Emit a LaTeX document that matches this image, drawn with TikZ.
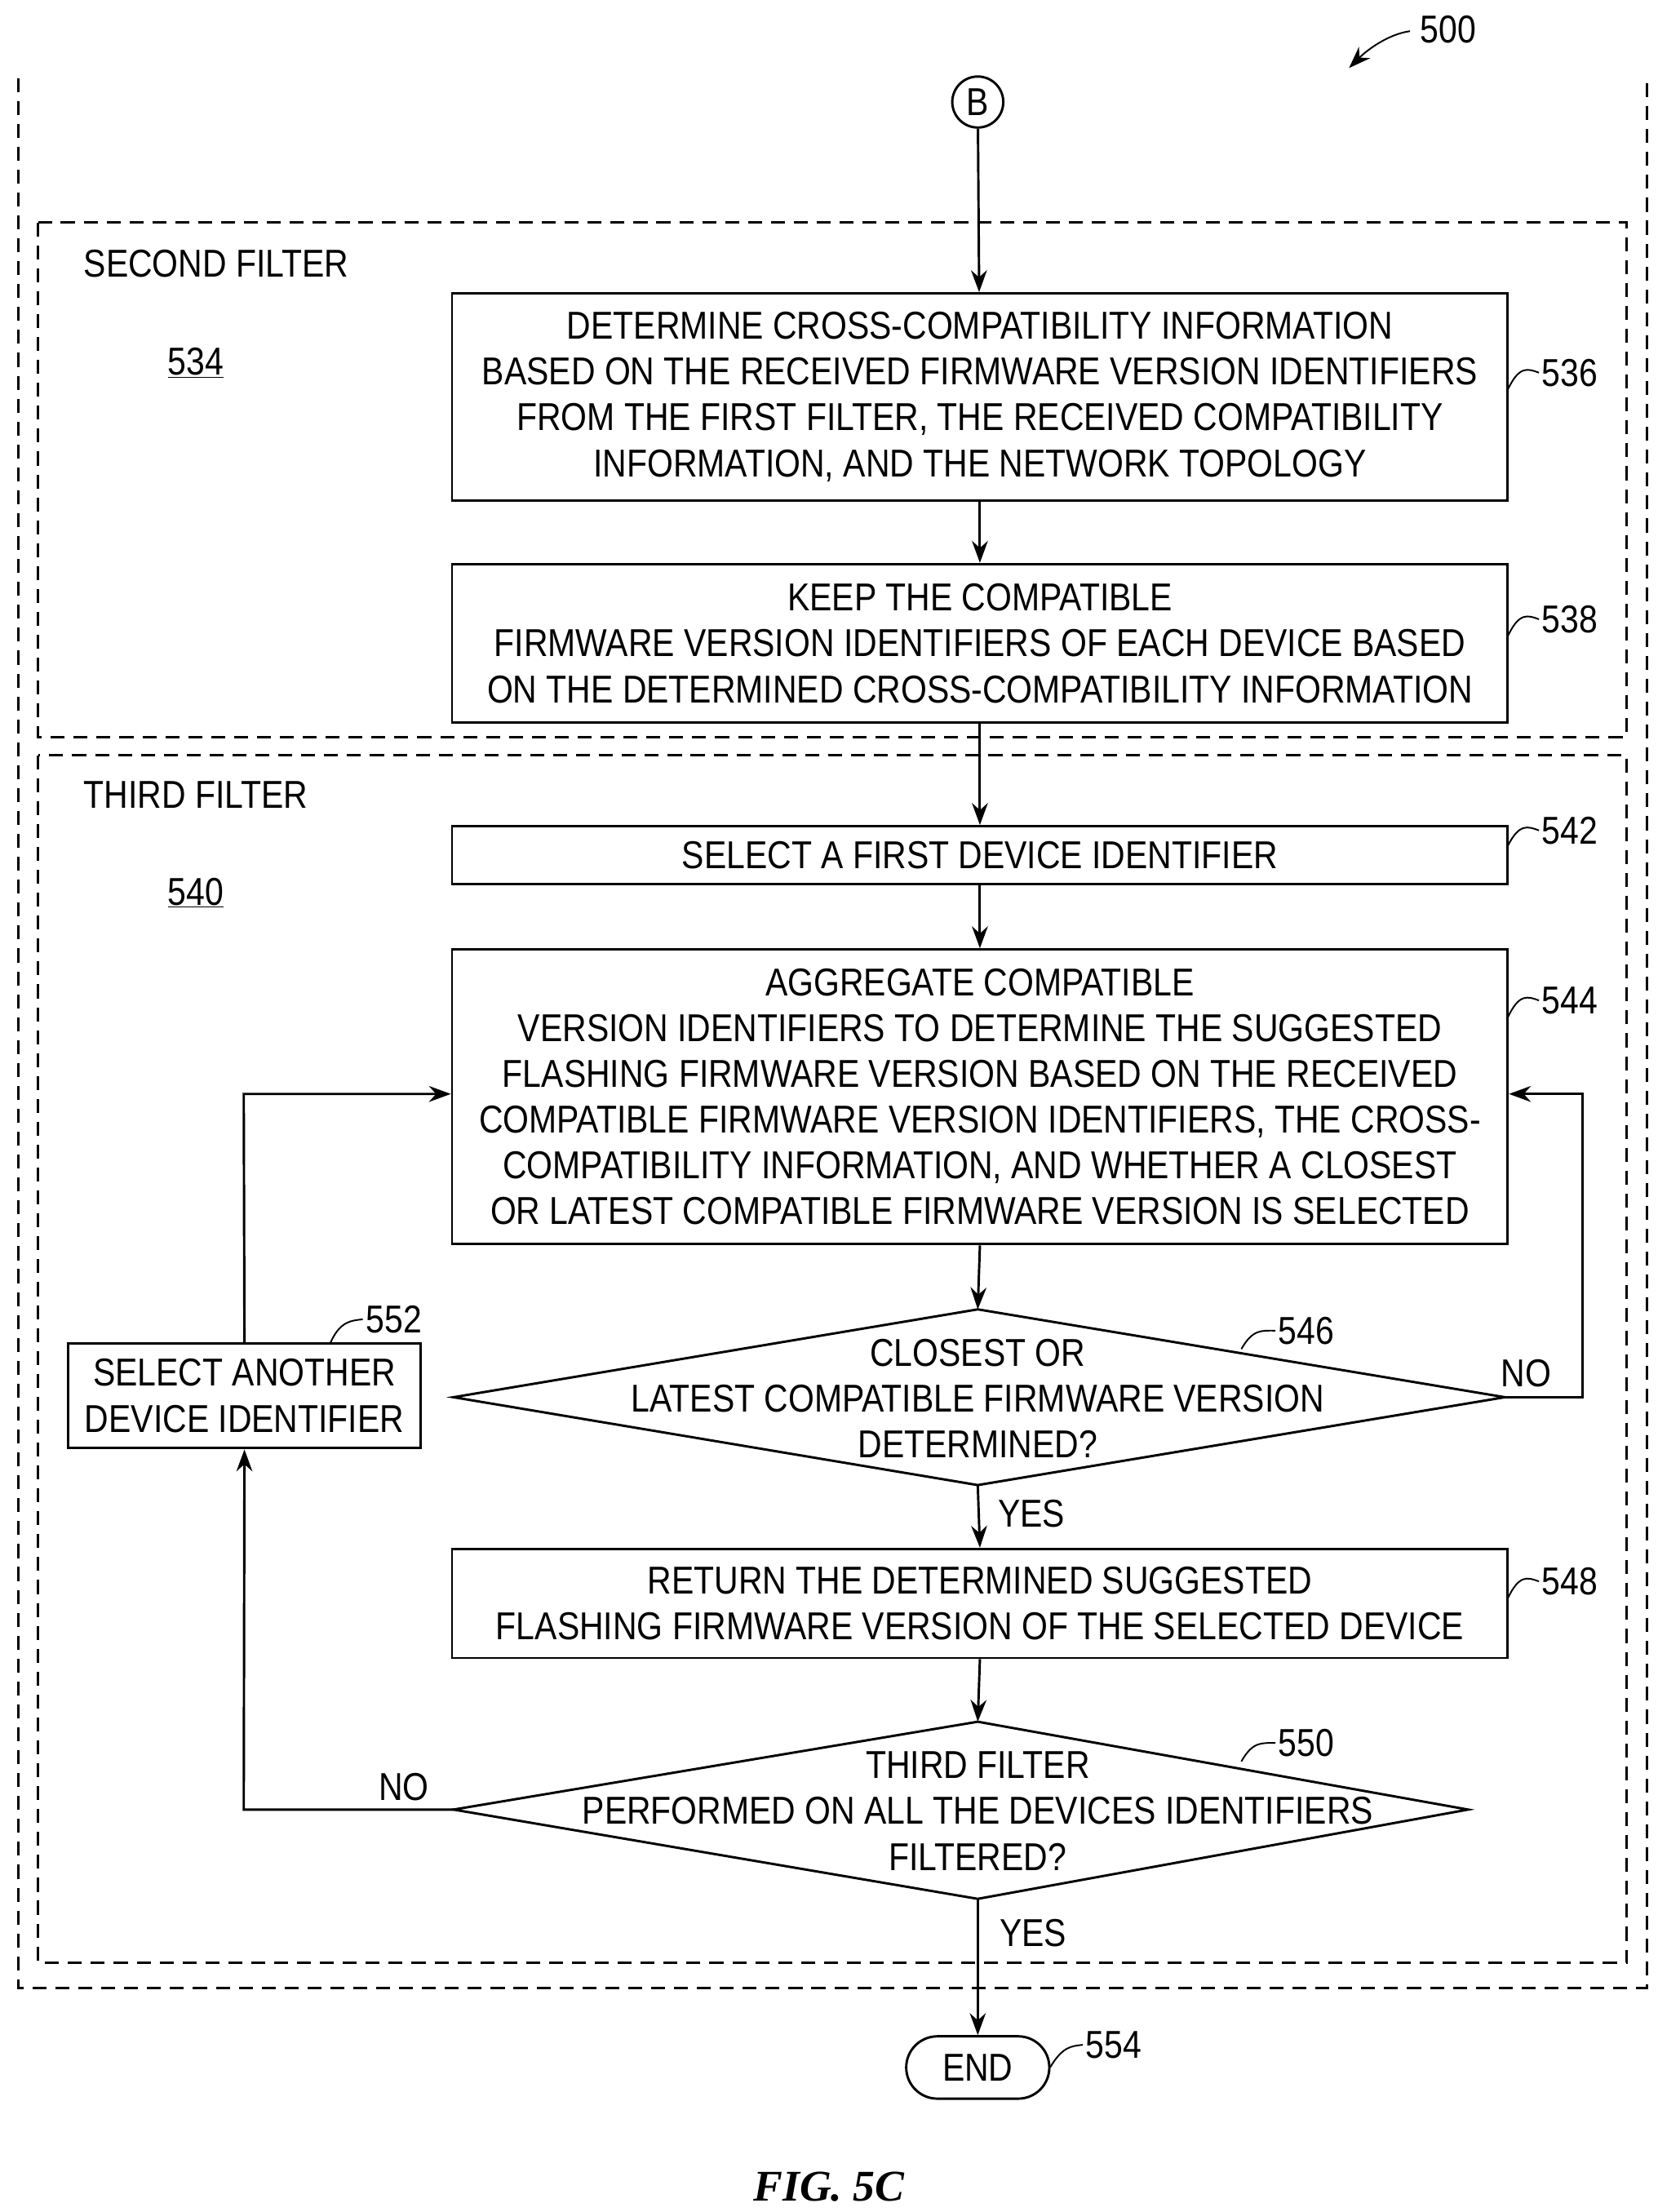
\documentclass[tikz,border=0pt]{standalone}
\usepackage{fontspec}
\setmainfont{Liberation Sans}[FakeStretch=0.86]
\newfontfamily\figfont{Liberation Serif}
\usetikzlibrary{arrows.meta,shapes.geometric,shapes.misc}
\begin{document}
\begin{tikzpicture}[x=0.05cm,y=-0.05cm,line width=2.4pt,
  every node/.style={font=\fontsize{39}{46}\selectfont},
  box/.style={draw,rectangle,align=center,inner sep=0pt},
  arr/.style={-{Stealth[length=22pt,width=16pt]}},
  dashbox/.style={dash pattern=on 14pt off 9pt},
  lab/.style={anchor=west,inner sep=2pt},
  lead/.style={line width=1.6pt}]
\useasboundingbox (0,0) rectangle (1170,1561);
% outer
\draw[dashbox] (13,55) -- (13,1403) -- (1162,1403) -- (1162,55);
\draw[dashbox] (27,157) rectangle (1148,520);
\draw[dashbox] (27,533) rectangle (1148,1385);
\node[anchor=west] (t2) at (56,186) {SECOND FILTER};
\node (n534) at (138,256) {\underline{534}};
\node[anchor=west] (t3) at (56,561) {THIRD FILTER};
\node (n540) at (138,630) {\underline{540}};
% ref 500
\node (n500) at (1022,21) {500};
\coordinate (a500) at (952,48);
\draw[lead,arr] (995,22) .. controls (980,24) and (965,35) .. (a500);
% nodes
\node[draw,circle,inner sep=0pt,minimum size=36*0.05cm] (B) at (690,72) {B};
\node[box,minimum width=745*0.05cm,minimum height=146*0.05cm] (b536) at (691.5,280) {DETERMINE CROSS-COMPATIBILITY INFORMATION\\BASED ON THE RECEIVED FIRMWARE VERSION IDENTIFIERS\\FROM THE FIRST FILTER, THE RECEIVED COMPATIBILITY\\INFORMATION, AND THE NETWORK TOPOLOGY};
\node[box,minimum width=745*0.05cm,minimum height=112*0.05cm] (b538) at (691.5,454) {KEEP THE COMPATIBLE\\FIRMWARE VERSION IDENTIFIERS OF EACH DEVICE BASED\\ON THE DETERMINED CROSS-COMPATIBILITY INFORMATION};
\node[box,minimum width=745*0.05cm,minimum height=41*0.05cm] (b542) at (691.5,603.5) {SELECT A FIRST DEVICE IDENTIFIER};
\node[box,minimum width=745*0.05cm,minimum height=208*0.05cm] (b544) at (691.5,774) {AGGREGATE COMPATIBLE\\VERSION IDENTIFIERS TO DETERMINE THE SUGGESTED\\FLASHING FIRMWARE VERSION BASED ON THE RECEIVED\\COMPATIBLE FIRMWARE VERSION IDENTIFIERS, THE CROSS-\\COMPATIBILITY INFORMATION, AND WHETHER A CLOSEST\\OR LATEST COMPATIBLE FIRMWARE VERSION IS SELECTED};
% diamond 546
\coordinate (d546t) at (690,924); \coordinate (d546b) at (690,1048);
\coordinate (d546l) at (320,986); \coordinate (d546r) at (1062,986);
\draw (d546t) -- (d546r) -- (d546b) -- (d546l) -- cycle;
\node[align=center] (t546) at (690,987) {CLOSEST OR\\LATEST COMPATIBLE FIRMWARE VERSION\\DETERMINED?};
\node[box,minimum width=745*0.05cm,minimum height=77*0.05cm] (b548) at (691.5,1131.5) {RETURN THE DETERMINED SUGGESTED\\FLASHING FIRMWARE VERSION OF THE SELECTED DEVICE};
% diamond 550
\coordinate (d550t) at (690,1215); \coordinate (d550b) at (690,1340);
\coordinate (d550l) at (320,1277); \coordinate (d550r) at (1036,1277);
\draw (d550t) -- (d550r) -- (d550b) -- (d550l) -- cycle;
\node[align=center] (t550) at (690,1278) {THIRD FILTER\\PERFORMED ON ALL THE DEVICES IDENTIFIERS\\FILTERED?};
\node[box,minimum width=249*0.05cm,minimum height=74*0.05cm] (b552) at (172.5,985) {SELECT ANOTHER\\DEVICE IDENTIFIER};
\node[draw,rounded rectangle,minimum width=101*0.05cm,minimum height=44*0.05cm,inner sep=0pt] (end) at (690,1459) {END};
% connectors
\draw[arr] (B) -- (b536);
\draw[arr] (b536) -- (b538);
\draw[arr] (b538.south) -- (b542.north);
\draw[arr] (b542) -- (b544);
\draw[arr] (b544.south) -- (d546t);
\draw[arr] (d546b) -- (b548.north);
\draw[arr] (b548.south) -- (d550t);
\draw[arr] (d550b) -- (end.north);
\draw[arr] (d546r) -- (1117,986) -- (1117,772) -- (b544.east |- 0,772);
\draw[arr] (b552.north) -- (172,772) -- (b544.west |- 0,772);
\draw[arr] (d550l) -- (172,1277) -- (b552.south);
\node (no1) at (1077,969) {NO};
\node (no2) at (285,1261) {NO};
\node (yes1) at (728,1068) {YES};
\node (yes2) at (729,1364) {YES};
% reference labels
\node[lab] (l536) at (1086,263) {536};
\draw[lead] (1064,275) .. controls (1072,258) and (1078,260) .. (l536.west);
\node[lab] (l538) at (1086,437) {538};
\draw[lead] (1064,449) .. controls (1072,432) and (1078,434) .. (l538.west);
\node[lab] (l542) at (1086,586) {542};
\draw[lead] (1064,597) .. controls (1072,581) and (1078,583) .. (l542.west);
\node[lab] (l544) at (1086,706) {544};
\draw[lead] (1064,718) .. controls (1072,701) and (1078,703) .. (l544.west);
\node[lab] (l548) at (1086,1116) {548};
\draw[lead] (1064,1128) .. controls (1072,1111) and (1078,1113) .. (l548.west);
\node[lab] (l546) at (900,939) {546};
\draw[lead] (876,952) .. controls (884,938) and (890,939) .. (l546.west);
\node[lab] (l550) at (900,1230) {550};
\draw[lead] (876,1243) .. controls (884,1229) and (890,1230) .. (l550.west);
\node[lab] (l552) at (256,931) {552};
\draw[lead] (233,948) .. controls (240,932) and (248,932) .. (l552.west);
\node[lab] (l554) at (764,1443) {554};
\draw[lead] (741,1459) .. controls (750,1444) and (756,1444) .. (l554.west);
\node[font=\figfont\bfseries\itshape\fontsize{44}{50}\selectfont] (fig) at (585,1543) {FIG. 5C};
\end{tikzpicture}
\end{document}
